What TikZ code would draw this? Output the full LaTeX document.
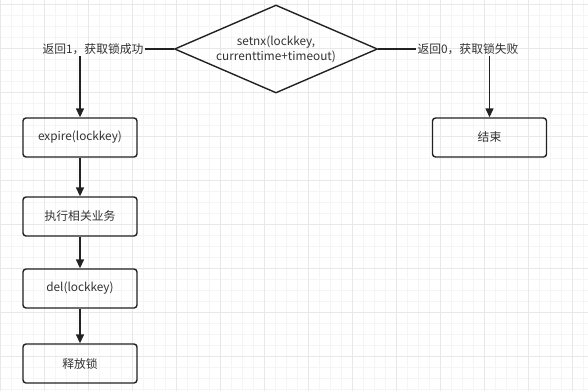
\documentclass[tikz,border=0pt]{standalone}
\usepackage{fontspec}
\setmainfont{Noto Sans CJK SC}
\usetikzlibrary{shapes.geometric,arrows.meta}
\definecolor{txt}{HTML}{333333}
\definecolor{ln}{HTML}{222222}
\tikzset{
  procbox/.style={draw=ln, line width=1.4pt, rounded corners=3pt, minimum width=114pt, minimum height=39pt, inner sep=0pt, text=txt, font=\fontsize{11.8}{14}\selectfont},
  lbl/.style={inner sep=1pt, text=txt, font=\fontsize{11.8}{14}\selectfont},
  conn/.style={draw=ln, line width=1.4pt},
  arr/.style={conn, -{Triangle[length=9pt,width=8pt]}},
}
\begin{document}
\begin{tikzpicture}[x=1pt,y=-1pt]
\useasboundingbox (0,0) rectangle (588,391);
\fill[white] (0,0) rectangle (588,391);
% grid
\foreach \i in {0,11,...,588} \draw[black!4, line width=0.5pt] (\i,0) -- (\i,391);
\foreach \j in {4,15,...,391} \draw[black!4, line width=0.5pt] (0,\j) -- (588,\j);
\foreach \i in {0,44,...,588} \draw[black!9, line width=0.6pt] (\i,0) -- (\i,391);
\foreach \j in {4,48,...,391} \draw[black!9, line width=0.6pt] (0,\j) -- (588,\j);
% diamond
\node[diamond, draw=ln, line width=1.4pt, minimum width=203pt, minimum height=88pt, inner sep=0pt, aspect=2.3, text=txt, align=center, font=\fontsize{11.8}{15}\selectfont] (d) at (276,49) {setnx(lockkey,\\currenttime+timeout)};
% labels
\node[lbl] (l1) at (93,49) {返回1，获取锁成功};
\node[lbl] (l0) at (468,49) {返回0，获取锁失败};
% boxes
\node[procbox] (b1) at (80,137.5) {expire(lockkey)};
\node[procbox] (b2) at (80,216.5) {执行相关业务};
\node[procbox] (b3) at (80,288.5) {del(lockkey)};
\node[procbox] (b4) at (80,363.5) {释放锁};
\node[procbox] (e) at (489.5,137.5) {结束};
% connectors
\draw[conn] (d.west) -- (l1.east);
\draw[conn] (d.east) -- (l0.west);
\draw[arr] (l1.south -| b1.north) -- (b1.north);
\draw[arr] (l0.south -| e.north) -- (e.north);
\draw[arr] (b1) -- (b2);
\draw[arr] (b2) -- (b3);
\draw[arr] (b3) -- (b4);
\end{tikzpicture}
\end{document}
